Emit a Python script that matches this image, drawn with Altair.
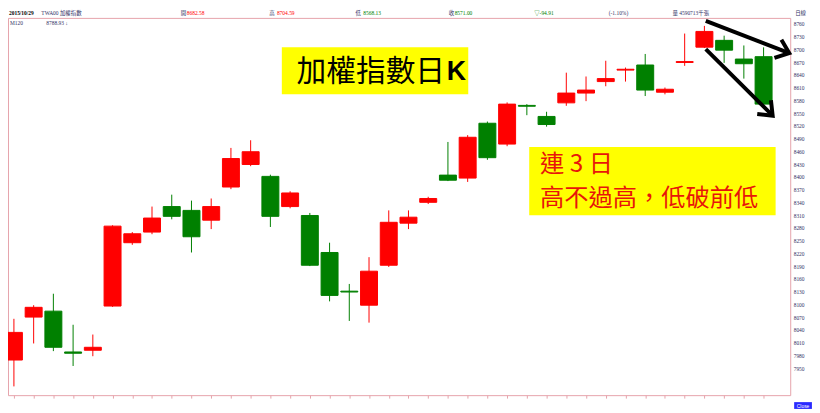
import altair as alt
import pandas as pd

# ---- candle data (TAIEX daily) ----
idx = list(range(39))
opens = [7969, 8070, 8084, 7988, 7992, 8096, 8245, 8270, 8330, 8321,
         8298, 8376, 8429, 8401, 8330, 8309, 8222, 8131, 8098, 8192,
         8291, 8340, 8404, 8397, 8526, 8477, 8568, 8542, 8574, 8597,
         8624, 8651, 8663, 8599, 8669, 8705, 8721, 8677, 8682.58]
highs = [8066, 8098, 8125, 8052, 8029, 8286, 8270, 8330, 8358, 8344,
         8349, 8468, 8486, 8405, 8366, 8315, 8245, 8148, 8211, 8321,
         8321, 8353, 8482, 8498, 8530, 8575, 8571, 8553, 8645, 8636,
         8673, 8657, 8689, 8610, 8737, 8755, 8732, 8709, 8704.59]
lows = [7907, 8008, 7990, 7955, 7978, 8094, 8240, 8265, 8300, 8222,
        8277, 8371, 8425, 8282, 8326, 8190, 8107, 8061, 8057, 8188,
        8277, 8336, 8390, 8388, 8440, 8472, 8545, 8518, 8567, 8578,
        8613, 8624, 8590, 8594, 8661, 8703, 8668, 8631, 8568.13]
closes = [8034, 8093, 7999, 7985, 7999, 8284, 8266, 8303, 8307, 8259,
          8330, 8443, 8459, 8307, 8362, 8192, 8121, 8129, 8178, 8293,
          8305, 8349, 8392, 8493, 8445, 8571, 8566, 8523, 8597, 8604,
          8631, 8653, 8604, 8606, 8671, 8742, 8698, 8666, 8571.00]

y_ticks = list(range(7950, 8761, 30))

# header texts (x in candle-index units)
hdr_x = [-0.25, 1.39, 8.46, 8.76, 12.94, 13.33, 17.31, 17.71, 22.04, 22.34, 26.37, 30.15, 33.38, 39.60]
hdr_t = ["2015/10/29", "TWA00 加權指數", "開", "8682.58", "高", "8704.59", "低", "8568.13",
         "收", "8571.00", "▽-94.91", "(-1.10%)", "量 4590713千張", "日線"]
hdr_c = ["#000000", "#333366", "#333366", "#ff0000", "#333366", "#ff0000", "#333366", "#008000",
         "#333366", "#008000", "#008000", "#333366", "#333366", "#333366"]
hdr_w = ["bold"] + ["normal"] * 13

RED = "#ff0000"
GREEN = "#008000"
PINK = "#e6a3ab"
NAVY = "#333366"

df = pd.DataFrame({"idx": idx, "open": opens, "high": highs, "low": lows, "close": closes})
df["dir"] = ["up" if c >= o else "down" for o, c in zip(opens, closes)]

xs = alt.Scale(domain=[-0.3, 39.35], nice=False, zero=False)
ys = alt.Scale(domain=[7886.4, 8773.8], nice=False, zero=False)
dir_scale = alt.Scale(domain=["up", "down"], range=[RED, GREEN])

xaxis = alt.Axis(values=idx, labels=False, tickSize=3, tickColor=PINK, domain=False,
                 grid=False, title=None)
yaxis = alt.Axis(orient="right", values=y_ticks, labelFontSize=5.5, labelFont="Liberation Serif",
                 labelColor=NAVY, ticks=False, domain=False, grid=False, title=None,
                 labelPadding=3, format="d")


def X(field):
    return alt.X(field, scale=xs, axis=xaxis)


def Y(field):
    return alt.Y(field, scale=ys, axis=yaxis)


base = alt.Chart(df)
wicks = base.mark_rule(strokeWidth=1, clip=True).encode(
    x=X("idx:Q"), y=Y("low:Q"), y2="high:Q",
    color=alt.Color("dir:N", scale=dir_scale, legend=None),
)
bodies = base.transform_calculate(
    x0="datum.idx - 0.43", x1="datum.idx + 0.43"
).mark_rect(strokeWidth=1, clip=True).encode(
    x=X("x0:Q"), x2="x1:Q", y=Y("open:Q"), y2="close:Q",
    fill=alt.Fill("dir:N", scale=dir_scale, legend=None),
    stroke=alt.Stroke("dir:N", scale=dir_scale, legend=None),
)

# header
hdr_df = pd.DataFrame({"x": hdr_x, "t": hdr_t, "c": hdr_c, "w": hdr_w, "y": [8785.3] * len(hdr_x)})
hdr_norm = alt.Chart(hdr_df).transform_filter("datum.w == 'normal'").mark_text(
    align="left", baseline="middle", fontSize=5.5, font="Liberation Serif, Noto Sans CJK TC"
).encode(x=X("x:Q"), y=Y("y:Q"), text="t:N", color=alt.Color("c:N", scale=None))
hdr_bold = alt.Chart(hdr_df).transform_filter("datum.w == 'bold'").mark_text(
    align="left", baseline="middle", fontSize=5.5, fontWeight="bold", font="Liberation Serif"
).encode(x=X("x:Q"), y=Y("y:Q"), text="t:N", color=alt.Color("c:N", scale=None))
m_df = pd.DataFrame({"x": [-0.2, 1.64], "y": [8762.3, 8762.3], "t": ["M120", "8788.93 ↓"]})
m_txt = alt.Chart(m_df).mark_text(
    align="left", baseline="middle", fontSize=5.5, font="Liberation Serif", color=NAVY
).encode(x=X("x:Q"), y=Y("y:Q"), text="t:N")

# yellow annotation boxes
box_df = pd.DataFrame({"x0": [13.58, 26.12], "x1": [23.03, 38.61],
                       "y0": [8704.8, 8470.3], "y1": [8594.5, 8309.4]})
boxes = alt.Chart(box_df).mark_rect(color="#ffff00").encode(
    x=X("x0:Q"), x2="x1:Q", y=Y("y0:Q"), y2="y1:Q",
)

title_df = pd.DataFrame({"x": [14.33], "y": [8647.4], "t": ["加權指數日"]})
title_txt = alt.Chart(title_df).mark_text(
    align="left", baseline="middle", fontSize=30, font="Noto Sans CJK TC", color="#000000"
).encode(x=X("x:Q"), y=Y("y:Q"), text="t:N")
k_df = pd.DataFrame({"x": [21.94], "y": [8647.4], "t": ["K"]})
k_txt = alt.Chart(k_df).mark_text(
    align="left", baseline="middle", fontSize=27, fontWeight="bold", font="Liberation Sans",
    color="#000000"
).encode(x=X("x:Q"), y=Y("y:Q"), text="t:N")

note_df = pd.DataFrame({"x": [26.67, 26.67], "y": [8428.0, 8347.0],
                        "t": ["連 3 日", "高不過高，低破前低"]})
note_txt = alt.Chart(note_df).mark_text(
    align="left", baseline="middle", fontSize=24.5, font="Noto Sans CJK TC", color="#e8150a"
).encode(x=X("x:Q"), y=Y("y:Q"), text="t:N")

# arrows
arr_df = pd.DataFrame({"x0": [35.07, 35.07], "y0": [8766.9, 8700.2],
                       "x1": [39.30, 38.46], "y1": [8691.0, 8543.9], "ang": [21, 45]})
arr_lines = alt.Chart(arr_df).mark_rule(strokeWidth=4, color="#000000").encode(
    x=X("x0:Q"), x2="x1:Q", y=Y("y0:Q"), y2="y1:Q",
)
arr_heads = alt.Chart(arr_df).mark_point(
    shape="M-1,-0.8L0,0L-1,0.8", filled=False, size=600, strokeWidth=4, color="#000000",
    strokeJoin="miter", opacity=1
).encode(x=X("x1:Q"), y=Y("y1:Q"), angle=alt.Angle("ang:Q", scale=None))

# "Close" tag at bottom right
close_df = pd.DataFrame({"x0": [39.55], "x1": [40.45], "y0": [7870.0], "y1": [7854.0],
                         "xm": [40.0], "ym": [7862.0], "t": ["Close"]})
close_box = alt.Chart(close_df).mark_rect(color="#2a2aff").encode(
    x=X("x0:Q"), x2="x1:Q", y=Y("y0:Q"), y2="y1:Q",
)
close_txt = alt.Chart(close_df).mark_text(
    align="center", baseline="middle", fontSize=5, font="Liberation Sans", color="#ffffff"
).encode(x=X("xm:Q"), y=Y("ym:Q"), text="t:N")

chart = alt.layer(
    wicks, bodies, boxes, title_txt, k_txt, note_txt, arr_lines, arr_heads,
    hdr_norm, hdr_bold, m_txt, close_box, close_txt
).properties(
    width=790, height=381,
    autosize=alt.AutoSizeParams(type="none"),
    padding={"left": 0, "top": 8, "right": 22, "bottom": 14},
    background="#ffffff",
).configure_view(stroke=PINK, strokeWidth=1)

chart.save("out.html", embed_options={"renderer": "svg", "actions": False})
